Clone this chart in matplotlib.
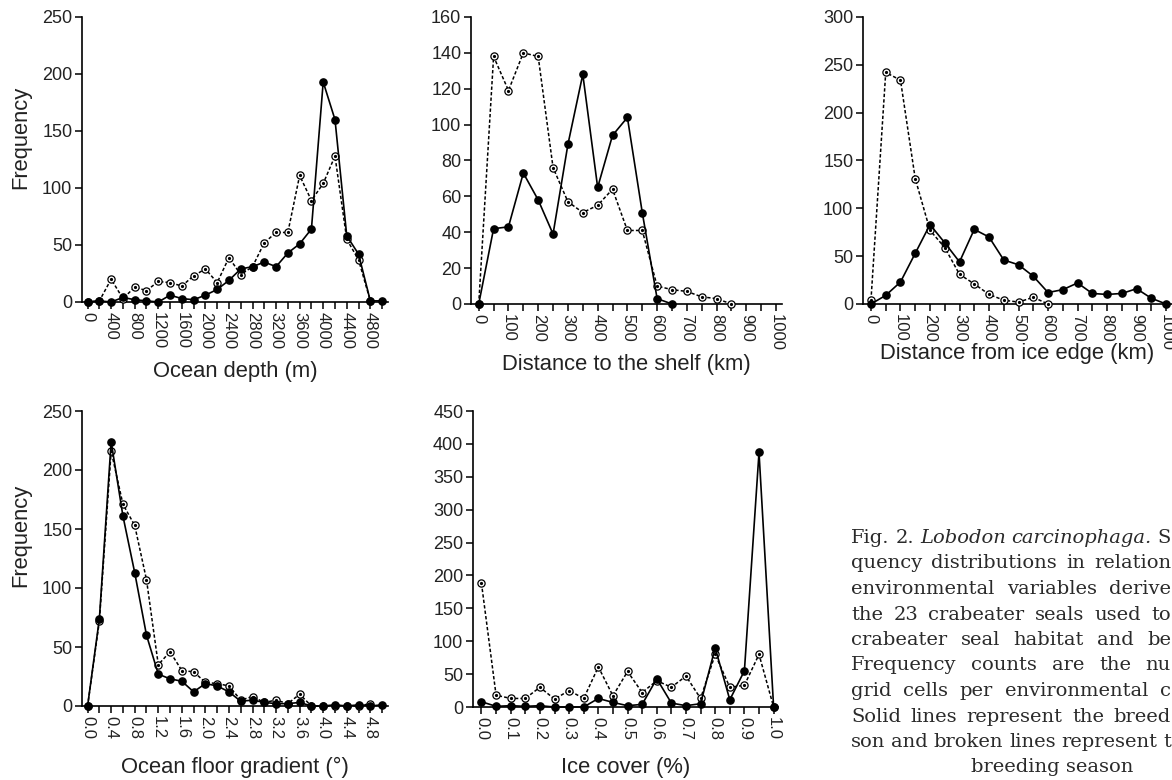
import numpy as np
import matplotlib
matplotlib.use('Agg')
import matplotlib.pyplot as plt
from matplotlib.ticker import MultipleLocator

plt.rcParams['font.family'] = ['Liberation Sans', 'DejaVu Sans']

# ---- data ----
depth_m = [0, 200, 400, 600, 800, 1000, 1200, 1400, 1600, 1800, 2000, 2200, 2400,
           2600, 2800, 3000, 3200, 3400, 3600, 3800, 4000, 4200, 4400, 4600, 4800, 5000]
depth_breed = [0, 1, 0, 4, 2, 1, 0, 6, 3, 2, 6, 11, 19, 29, 31, 35, 31, 43, 51, 64,
               193, 160, 58, 42, 1, 1]
depth_nonbreed = [0, 1, 20, 3, 13, 10, 18, 17, 14, 23, 29, 17, 39, 24, 31, 52, 61, 61,
                  111, 89, 104, 128, 55, 37, 1]

shelf_km = [0, 50, 100, 150, 200, 250, 300, 350, 400, 450, 500, 550, 600, 650, 700,
            750, 800, 850]
shelf_breed = [0, 42, 43, 73, 58, 39, 89, 128, 65, 94, 104, 51, 3, 0]
shelf_nonbreed = [0, 138, 119, 140, 138, 76, 57, 51, 55, 64, 41, 41, 10, 8, 7, 4, 3, 0]

edge_km = [0, 50, 100, 150, 200, 250, 300, 350, 400, 450, 500, 550, 600, 650, 700,
           750, 800, 850, 900, 950, 1000]
edge_breed = [0, 9, 23, 53, 83, 64, 44, 78, 70, 46, 41, 29, 12, 15, 22, 11, 10, 11,
              16, 6, 0]
edge_nonbreed = [4, 242, 234, 131, 77, 59, 31, 21, 10, 4, 2, 7, 0]

grad_deg = [0.0, 0.2, 0.4, 0.6, 0.8, 1.0, 1.2, 1.4, 1.6, 1.8, 2.0, 2.2, 2.4, 2.6, 2.8,
            3.0, 3.2, 3.4, 3.6, 3.8, 4.0, 4.2, 4.4, 4.6, 4.8, 5.0]
grad_breed = [0, 74, 224, 161, 113, 60, 27, 23, 21, 12, 19, 17, 12, 4, 5, 3, 2, 2, 3,
              0, 0, 1, 0, 1, 0, 1]
grad_nonbreed = [0, 72, 216, 171, 153, 107, 35, 46, 30, 29, 20, 19, 17, 5, 8, 3, 5, 2,
                 10, 0, 0, 0, 0, 0, 2]

cover = [0.0, 0.05, 0.1, 0.15, 0.2, 0.25, 0.3, 0.35, 0.4, 0.45, 0.5, 0.55, 0.6, 0.65,
         0.7, 0.75, 0.8, 0.85, 0.9, 0.95, 1.0]
cover_breed = [8, 1, 2, 1, 2, 0, 0, 0, 13, 7, 2, 4, 43, 6, 2, 5, 90, 11, 55, 387, 0]
cover_nonbreed = [188, 18, 13, 13, 30, 12, 25, 13, 61, 17, 54, 22, 40, 30, 47, 13, 80,
                  30, 33, 80, 0]

caption = [
    'Fig. 2. Lobodon carcinophaga. S',
    'quency distributions in relation',
    'environmental variables derive',
    'the 23 crabeater seals used to',
    'crabeater seal habitat and be',
    'Frequency counts are the nu',
    'grid cells per environmental c',
    'Solid lines represent the breed',
    'son and broken lines represent t',
]
caption_last = 'breeding season'
italic_words = ['Lobodon', 'carcinophaga.']

W, H = 1172, 780
fig = plt.figure(figsize=(W / 100, H / 100), dpi=100)

def px_axes(l, t, r, b):
    return fig.add_axes([l / W, 1 - b / H, (r - l) / W, (b - t) / H])

def draw_panel(ax, x, breed, nonbreed, xlim, ymax, ystep, xmajor, xminor, xfmt, xlabel,
               xlab_y, ylabel=False):
    xb = x[:len(breed)]
    xn = x[:len(nonbreed)]
    ax.plot(xn, nonbreed, color='black', lw=1.1, dashes=(2.2, 1.4),
            marker='o', ms=5.2, mfc='white', mec='black', mew=0.9, clip_on=False, zorder=3)
    ax.plot(xn, nonbreed, ls='none', marker='o', ms=1.3, color='black', clip_on=False, zorder=3)
    ax.plot(xb, breed, color='black', lw=1.2, marker='o', ms=5.2, mfc='black', mec='black',
            clip_on=False, zorder=4)
    ax.set_xlim(*xlim)
    ax.set_ylim(0, ymax)
    ax.yaxis.set_major_locator(MultipleLocator(ystep))
    ax.xaxis.set_major_locator(MultipleLocator(xmajor))
    ax.xaxis.set_minor_locator(MultipleLocator(xminor))
    ax.xaxis.set_major_formatter(xfmt)
    for s in ['top', 'right']:
        ax.spines[s].set_visible(False)
    for s in ['left', 'bottom']:
        ax.spines[s].set_linewidth(1.2)
    ax.tick_params(axis='both', which='both', direction='out', length=5, width=1.1,
                   colors='black', labelcolor='#222222', pad=2)
    ax.tick_params(axis='y', labelsize=13)
    ax.tick_params(axis='x', which='major', labelrotation=-90, labelsize=12)
    ax.set_xlabel(xlabel, fontsize=15.8, color='#222222')
    ax.xaxis.set_label_coords(0.5, xlab_y)
    ax.xaxis.label.set_verticalalignment('center')
    if ylabel:
        ax.set_ylabel('Frequency', fontsize=15.8, color='#222222')
        ax.yaxis.set_label_coords(-0.2, 0.578)
        ax.yaxis.label.set_verticalalignment('center')

ax1 = px_axes(82, 17, 388, 302)
draw_panel(ax1, depth_m, depth_breed, depth_nonbreed, (-95, 5100), 250, 50, 400, 200,
           lambda v, p: f'{v:.0f}', 'Ocean depth (m)', -0.245, ylabel=True)

ax2 = px_axes(471, 17, 782, 304)
draw_panel(ax2, shelf_km, shelf_breed, shelf_nonbreed, (-26, 1020), 160, 20, 100, 50,
           lambda v, p: f'{v:.0f}', 'Distance to the shelf (km)', -0.212)

ax3 = px_axes(863, 17, 1172, 304)
draw_panel(ax3, edge_km, edge_breed, edge_nonbreed, (-27, 1020), 300, 50, 100, 50,
           lambda v, p: f'{v:.0f}', 'Distance from ice edge (km)', -0.174)

ax4 = px_axes(82, 411, 388, 706)
draw_panel(ax4, grad_deg, grad_breed, grad_nonbreed, (-0.095, 5.1), 250, 50, 0.4, 0.2,
           lambda v, p: f'{v:.1f}', 'Ocean floor gradient (°)', -0.207, ylabel=True)

ax5 = px_axes(473, 411, 778, 707)
draw_panel(ax5, cover, cover_breed, cover_nonbreed, (-0.029, 1.015), 450, 50, 0.1, 0.05,
           lambda v, p: f'{v:.1f}', 'Ice cover (%)', -0.204)

# ---- caption, justified like the journal column ----
r = fig.canvas.get_renderer()
x0, x1 = 851, 1171
base = 543
step = 25.5
cap_kw = dict(fontsize=14, family='DejaVu Serif', color='#2a2a2a', va='baseline')
for i, line in enumerate(caption):
    y = 1 - (base + i * step) / H
    words = line.split(' ')
    texts = []
    for w in words:
        st = 'italic' if w in italic_words else 'normal'
        texts.append(fig.text(0, y, w, style=st, **cap_kw))
    widths = [t.get_window_extent(r).width for t in texts]
    gap = (x1 - x0 - sum(widths)) / (len(words) - 1)
    gap = max(gap, 5)
    x = x0
    for t, w in zip(texts, widths):
        t.set_x(x / W)
        x += w + gap
fig.text(1052 / W, 1 - (base + len(caption) * step) / H, caption_last, ha='center', **cap_kw)

fig.savefig('out.png', dpi=100)
